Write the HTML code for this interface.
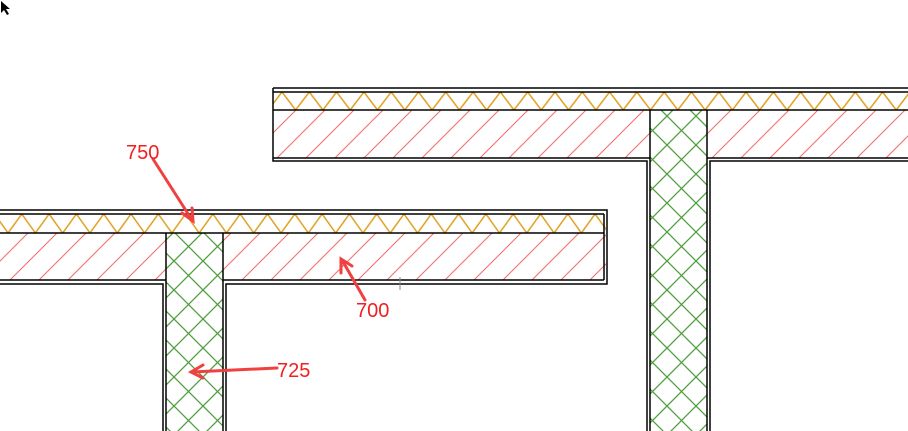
<!DOCTYPE html>
<html><head><meta charset="utf-8"><style>
html,body{margin:0;padding:0;background:#fff;width:908px;height:431px;overflow:hidden}
svg{display:block}
text{font-family:"Liberation Sans",sans-serif;font-size:20px;fill:#f02020}
</style></head><body>
<svg width="908" height="431" viewBox="0 0 908 431" xmlns="http://www.w3.org/2000/svg">
<defs>
<pattern id="hatch" patternUnits="userSpaceOnUse" width="29" height="29">
<line x1="0" y1="29" x2="29" y2="0" stroke="#f07070" stroke-width="1.1"/>
<line x1="-5" y1="5" x2="5" y2="-5" stroke="#f07070" stroke-width="1.1"/>
<line x1="24" y1="34" x2="34" y2="24" stroke="#f07070" stroke-width="1.1"/>
</pattern>
<pattern id="cross" patternUnits="userSpaceOnUse" width="29" height="29">
<path d="M0 29 L29 0 M0 0 L29 29" stroke="#4e9f3e" stroke-width="1.3" fill="none"/>
</pattern>
<pattern id="zigL" patternUnits="userSpaceOnUse" x="-5.5" y="214" width="27.3" height="19">
<polyline points="0,0 13.6,19 27.3,0" stroke="#e0a020" stroke-width="1.5" fill="none"/>
</pattern>
<pattern id="zigR" patternUnits="userSpaceOnUse" x="282" y="92" width="27.3" height="18">
<polyline points="0,0 13.6,18 27.3,0" stroke="#e0a020" stroke-width="1.5" fill="none"/>
</pattern>
</defs>
<path d="M1 1 L1 13 L4 10 L7 15 L9 14 L6 9 L10 9 Z" fill="#000"/>

<rect x="273" y="92" width="640" height="18" fill="url(#zigR)"/>
<rect x="273" y="110" width="640" height="48" fill="url(#hatch)"/>
<rect x="650" y="110" width="57" height="330" fill="#fff"/>
<rect x="650" y="110" width="57" height="330" fill="url(#cross)"/>
<g stroke="#000" stroke-width="1.5" fill="none">
<line x1="273" y1="88" x2="908" y2="88"/>
<line x1="273" y1="92" x2="908" y2="92"/>
<line x1="273" y1="110" x2="908" y2="110"/>
<polyline points="273,88 273,161 647,161 647,431"/>
<line x1="273" y1="158" x2="650" y2="158"/>
<line x1="650" y1="110" x2="650" y2="431"/>
<line x1="707" y1="110" x2="707" y2="431"/>
<line x1="707" y1="158" x2="908" y2="158"/>
<polyline points="710,431 710,161 908,161"/>
</g>

<rect x="0" y="214" width="606" height="19" fill="url(#zigL)"/>
<rect x="0" y="233" width="606" height="47" fill="url(#hatch)"/>
<rect x="166" y="233" width="57" height="200" fill="#fff"/>
<rect x="166" y="233" width="57" height="200" fill="url(#cross)"/>
<g stroke="#000" stroke-width="1.5" fill="none">
<polyline points="0,210 607,210 607,284 226,284 226,431"/>
<line x1="0" y1="214" x2="604" y2="214"/>
<line x1="0" y1="233" x2="604" y2="233"/>
<line x1="604" y1="214" x2="604" y2="280"/>
<line x1="0" y1="280" x2="166" y2="280"/>
<line x1="223" y1="280" x2="604" y2="280"/>
<line x1="166" y1="233" x2="166" y2="431"/>
<line x1="223" y1="233" x2="223" y2="431"/>
<polyline points="0,284 163,284 163,431"/>
</g>
<line x1="400" y1="277" x2="400" y2="290" stroke="#888" stroke-width="1"/>

<g stroke="#f04040" stroke-width="3" fill="none" stroke-linecap="round">
<line x1="153" y1="159" x2="192" y2="220"/>
<polyline points="182,213 193,221 192,208"/>
<line x1="365" y1="300" x2="342" y2="260"/>
<polyline points="341,273 341,259 352,266"/>
<line x1="277" y1="368" x2="192" y2="372"/>
<polyline points="203,365 191,372 203,378"/>
</g>
<text x="126" y="159">750</text>
<text x="356" y="317">700</text>
<text x="277" y="377">725</text>
</svg>
</body></html>
